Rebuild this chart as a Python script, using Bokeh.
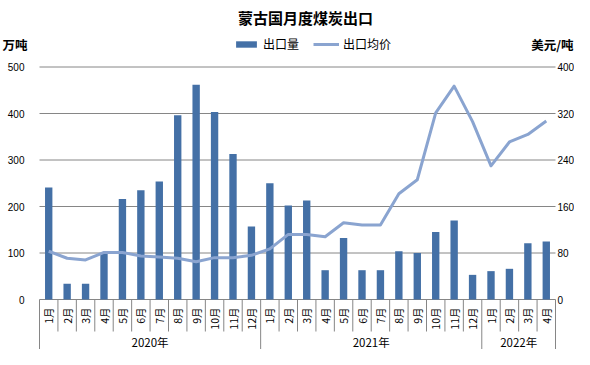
import numpy as np
from bokeh.plotting import figure
from bokeh.models import (Range1d, LinearAxis, FixedTicker, Label,
                          Legend, LegendItem, ColumnDataSource)
from bokeh.core.properties import value
from bokeh.embed import file_html
from bokeh.resources import INLINE

# ---------------- data ----------------
years = ["2020年"] * 12 + ["2021年"] * 12 + ["2022年"] * 4
months = ["1月", "2月", "3月", "4月", "5月", "6月", "7月", "8月", "9月", "10月", "11月", "12月",
          "1月", "2月", "3月", "4月", "5月", "6月", "7月", "8月", "9月", "10月", "11月", "12月",
          "1月", "2月", "3月", "4月"]
volume = [241, 34, 34, 99, 216, 235, 254, 396, 462, 403, 313, 157,
          250, 202, 213, 63, 132, 63, 63, 104, 100, 145, 170, 53,
          61, 66, 121, 125]          # 万吨
price = [83, 71, 68, 81, 81, 75, 73, 71, 65, 72, 72, 76,
         87, 112, 112, 108, 132, 128, 128, 182, 206, 321, 367, 306,
         230, 271, 284, 307]         # 美元/吨
left_ticks = [0, 100, 200, 300, 400, 500]
right_ticks = [0, 80, 160, 240, 320, 400]

# ---------------- layout constants ----------------
W, H = 574, 349
PLOT_L, PLOT_R = 39, 555          # pixel extent of the category area
TOP_PX, ZERO_PX = 66.5, 299.0     # pixel rows of 500 and 0
n = len(months)
cat_w = (PLOT_R - PLOT_L) / n
x_lo = -PLOT_L / cat_w
x_hi = n + (W - PLOT_R) / cat_w
px_per_unit = (ZERO_PX - TOP_PX) / left_ticks[-1]
ymax = ZERO_PX / px_per_unit
ymin = -(H - ZERO_PX) / px_per_unit
ratio = right_ticks[-1] / left_ticks[-1]

FONT = "Noto Sans CJK SC"
NUMFONT = "Liberation Sans"
GRID = "#868686"
BAR = "#4470A6"
LINE = "#8AA4D0"

xc = [i + 0.5 for i in range(n)]          # category centres on the linear scale

p = figure(width=W, height=H, x_range=Range1d(x_lo, x_hi), y_range=Range1d(ymin, ymax),
           output_backend="svg", toolbar_location=None, x_axis_location=None,
           min_border_left=0, min_border_right=0, min_border_top=0, min_border_bottom=0)
p.outline_line_color = None
p.xgrid.visible = False
p.ygrid.visible = False
p.extra_y_ranges = {"price": Range1d(ymin * ratio, ymax * ratio)}


def style_axis(ax, standoff):
    ax.axis_line_color = None
    ax.major_tick_line_color = None
    ax.minor_tick_line_color = None
    ax.major_tick_out = 0
    ax.major_tick_in = 0
    ax.minor_tick_out = 0
    ax.major_label_standoff = standoff
    ax.major_label_text_font = NUMFONT
    ax.major_label_text_font_size = "10px"
    ax.major_label_text_color = "#000000"


ya = p.yaxis[0]
ya.ticker = FixedTicker(ticks=left_ticks)
ya.fixed_location = 0
style_axis(ya, 15)

ra = LinearAxis(y_range_name="price", ticker=FixedTicker(ticks=right_ticks), fixed_location=n)
style_axis(ra, 2)
p.add_layout(ra, "right")

# horizontal gridlines across the category area
p.segment(x0=[0] * len(left_ticks), y0=left_ticks, x1=[n] * len(left_ticks), y1=left_ticks,
          line_color=GRID, line_width=1)

# bars and line
src = ColumnDataSource(dict(x=xc, vol=volume, price=price, month=months, year=years))
bars = p.vbar(x="x", top="vol", width=0.4, source=src, fill_color=BAR, line_color=None)
line = p.line(x="x", y="price", source=src, y_range_name="price",
              line_color=LINE, line_width=3, line_join="round")

# category axis below zero
bounds = list(range(n + 1))
group_edges = [0] + [i for i in range(1, n) if years[i] != years[i - 1]] + [n]
tick_bottom = (ZERO_PX - 331) / px_per_unit
ends = [ymin if b in group_edges else tick_bottom for b in bounds]
p.segment(x0=bounds, y0=[0] * len(bounds), x1=bounds, y1=ends, line_color=GRID, line_width=1)

month_y = (ZERO_PX - 307) / px_per_unit
p.text(x="x", y=month_y, text="month", source=src, angle=np.pi / 2,
       text_align="right", text_baseline="middle",
       text_font=value(FONT), text_font_size="10.5px", text_color="#000000")

year_y = (ZERO_PX - 341) / px_per_unit
group_names = [years[group_edges[i]] for i in range(len(group_edges) - 1)]
group_centers = [(group_edges[i] + group_edges[i + 1]) / 2 for i in range(len(group_edges) - 1)]
p.text(x=group_centers, y=[year_y] * len(group_names), text=group_names,
       text_align="center", text_baseline="middle",
       text_font=value(FONT), text_font_size="11.5px", text_color="#000000")

# titles
p.add_layout(Label(x=305, y=H - 17, x_units="screen", y_units="screen",
                   text="蒙古国月度煤炭出口", text_align="center", text_baseline="middle",
                   text_font=FONT, text_font_size="15px", text_font_style="bold",
                   text_color="#000000"))
p.add_layout(Label(x=2, y=H - 44, x_units="screen", y_units="screen",
                   text="万吨", text_align="left", text_baseline="middle",
                   text_font=FONT, text_font_size="12.5px", text_font_style="bold",
                   text_color="#000000"))
p.add_layout(Label(x=W - 1, y=H - 44, x_units="screen", y_units="screen",
                   text="美元/吨", text_align="right", text_baseline="middle",
                   text_font=FONT, text_font_size="12.5px", text_font_style="bold",
                   text_color="#000000"))

legend = Legend(items=[LegendItem(label="出口量", renderers=[bars]),
                       LegendItem(label="出口均价", renderers=[line])],
                orientation="horizontal", location=(233, H - 52),
                glyph_width=26, glyph_height=8, label_standoff=4, spacing=14,
                padding=0, margin=0, border_line_color=None, background_fill_alpha=0,
                label_text_font=FONT, label_text_font_size="12px",
                label_text_color="#000000")
p.add_layout(legend)

open("out.html", "w").write(file_html(p, INLINE))
